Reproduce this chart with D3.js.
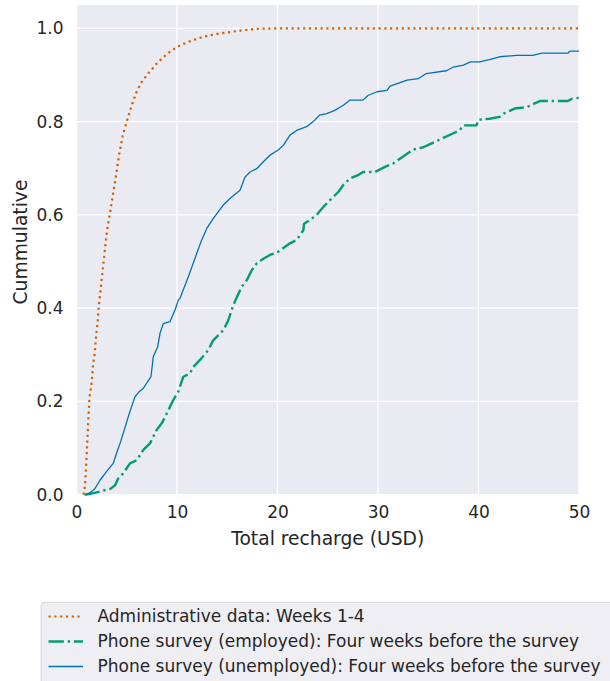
<!DOCTYPE html>
<html>
<head>
<meta charset="utf-8">
<script src="https://cdn.jsdelivr.net/npm/d3@7"></script>
<style>
  html, body { margin: 0; padding: 0; background: #fff; }
  svg { display: block; font-family: "DejaVu Sans", sans-serif; }
</style>
</head>
<body>
<svg id="chart" width="610" height="681"></svg>
<script>
// ---- Data ----
const adminX = [0.7, 0.85, 1.0, 1.15, 1.3, 1.45, 1.55, 1.65, 1.8, 1.95, 2.1, 2.2, 2.35, 2.55, 2.75, 2.95, 3.1, 3.3, 3.6, 3.9, 4.25, 4.6, 5.0, 5.5, 6.0, 6.5, 7.0, 7.5, 8.0, 9.0, 10.0, 11.0, 12.6, 14.0, 15.6, 17.0, 18.0, 20.0, 50.0];
const adminY = [0.0, 0.02, 0.08, 0.15, 0.21, 0.23, 0.25, 0.28, 0.30, 0.34, 0.37, 0.40, 0.43, 0.47, 0.51, 0.55, 0.575, 0.60, 0.64, 0.68, 0.73, 0.77, 0.80, 0.835, 0.865, 0.885, 0.90, 0.912, 0.925, 0.945, 0.96, 0.97, 0.982, 0.988, 0.993, 0.997, 0.999, 1.0, 1.0];

const employedX = [0.8, 1.6, 2.34, 2.84, 3.4, 3.83, 4.16, 4.66, 5.32, 5.99, 6.65, 7.31, 7.98, 8.48, 8.98, 9.63, 10.13, 10.63, 11.29, 11.62, 12.29, 13.11, 13.6, 14.45, 14.78, 15.1, 15.44, 15.77, 16.44, 16.94, 17.43, 17.93, 18.59, 19.25, 20.08, 21.24, 21.9, 22.57, 22.64, 23.23, 23.9, 24.56, 25.2, 26.05, 26.55, 27.2, 28.0, 28.5, 29.7, 30.7, 31.5, 32.5, 33.5, 34.5, 35.5, 36.5, 37.5, 38.1, 38.5, 39.8, 40.0, 41.1, 42.1, 42.5, 43.6, 44.8, 45.6, 46.1, 48.9, 49.3, 50.0];
const employedY = [0.0, 0.003, 0.007, 0.01, 0.013, 0.02, 0.035, 0.046, 0.067, 0.074, 0.096, 0.11, 0.139, 0.153, 0.174, 0.203, 0.221, 0.253, 0.26, 0.274, 0.289, 0.31, 0.331, 0.349, 0.36, 0.374, 0.396, 0.415, 0.446, 0.46, 0.481, 0.496, 0.506, 0.514, 0.521, 0.539, 0.546, 0.567, 0.581, 0.589, 0.60, 0.617, 0.631, 0.649, 0.664, 0.678, 0.685, 0.692, 0.692, 0.703, 0.71, 0.725, 0.74, 0.745, 0.755, 0.765, 0.775, 0.781, 0.792, 0.792, 0.804, 0.806, 0.81, 0.817, 0.828, 0.831, 0.839, 0.844, 0.844, 0.849, 0.851];

const unemployedX = [1.0, 1.34, 1.8, 2.34, 3.0, 3.66, 4.0, 4.33, 4.7, 5.15, 5.5, 5.82, 6.2, 6.65, 7.0, 7.41, 7.64, 8.08, 8.31, 8.64, 9.3, 9.8, 10.13, 10.3, 11.12, 11.96, 12.46, 12.96, 13.6, 14.6, 15.27, 16.27, 16.77, 17.26, 17.93, 18.59, 19.25, 20.08, 20.58, 21.24, 21.9, 22.9, 23.56, 24.2, 24.9, 25.7, 26.55, 27.2, 28.5, 29.0, 29.9, 30.9, 31.2, 32.9, 34.0, 34.8, 36.8, 37.5, 38.5, 39.2, 40.1, 41.1, 42.1, 43.8, 45.4, 46.3, 48.9, 49.1, 50.0];
const unemployedY = [0.0, 0.004, 0.012, 0.031, 0.05, 0.067, 0.09, 0.11, 0.135, 0.167, 0.19, 0.21, 0.22, 0.228, 0.24, 0.253, 0.296, 0.317, 0.346, 0.367, 0.371, 0.396, 0.417, 0.421, 0.467, 0.517, 0.546, 0.571, 0.592, 0.621, 0.635, 0.653, 0.681, 0.692, 0.699, 0.714, 0.728, 0.739, 0.749, 0.771, 0.781, 0.789, 0.80, 0.814, 0.817, 0.824, 0.835, 0.846, 0.846, 0.856, 0.864, 0.867, 0.876, 0.889, 0.892, 0.903, 0.909, 0.917, 0.921, 0.928, 0.928, 0.933, 0.939, 0.942, 0.942, 0.947, 0.947, 0.951, 0.951];

const xTicks = [0, 10, 20, 30, 40, 50];
const yTicks = [0.0, 0.2, 0.4, 0.6, 0.8, 1.0];
const seriesNames = [
  "Administrative data: Weeks 1-4",
  "Phone survey (employed): Four weeks before the survey",
  "Phone survey (unemployed): Four weeks before the survey"
];
const xLabel = "Total recharge (USD)";
const yLabel = "Cummulative";

// ---- Styles ----
const colors = ["#D55E00", "#029E73", "#0173B2"];
const widths = [2.2, 2.4, 1.3];
const dashes = ["2.2,3.6", "15.4,3.8,2.4,3.8", null];
const textColor = "#262626";

const svg = d3.select("#chart");
const plot = { left: 76.5, right: 579, top: 5, bottom: 494.7 };

const x = d3.scaleLinear().domain([0, 50]).range([plot.left, plot.right]);
const y = d3.scaleLinear().domain([0, 1.05]).range([plot.bottom, plot.top]);

// background
svg.append("rect")
  .attr("x", plot.left).attr("y", plot.top)
  .attr("width", plot.right - plot.left).attr("height", plot.bottom - plot.top)
  .attr("fill", "#EAEAF2");

// grid
const grid = svg.append("g");
grid.selectAll("line.v").data(xTicks).join("line")
  .attr("x1", d => x(d)).attr("x2", d => x(d))
  .attr("y1", plot.top).attr("y2", plot.bottom)
  .attr("stroke", "#fff").attr("stroke-width", 1.3);
grid.selectAll("line.h").data(yTicks).join("line")
  .attr("x1", plot.left).attr("x2", plot.right)
  .attr("y1", d => y(d)).attr("y2", d => y(d))
  .attr("stroke", "#fff").attr("stroke-width", 1.3);

// axes (tick labels only)
const xAxis = d3.axisBottom(x).tickValues(xTicks).tickFormat(d3.format("d")).tickSize(0).tickPadding(11);
const yAxis = d3.axisLeft(y).tickValues(yTicks).tickFormat(d3.format(".1f")).tickSize(0).tickPadding(13);
const gx = svg.append("g").attr("transform", `translate(0,${plot.bottom})`).call(xAxis);
const gy = svg.append("g").attr("transform", `translate(${plot.left},0)`).call(yAxis);
[gx, gy].forEach(g => {
  g.select(".domain").remove();
  g.selectAll("text").attr("fill", textColor).style("font-size", "17px").style("font-family", "DejaVu Sans");
});

// axis labels
svg.append("text")
  .attr("x", (plot.left + plot.right) / 2).attr("y", 545)
  .attr("text-anchor", "middle").attr("fill", textColor)
  .style("font-size", "18.7px").text(xLabel);
svg.append("text")
  .attr("transform", `translate(27,242) rotate(-90)`)
  .attr("text-anchor", "middle").attr("fill", textColor)
  .style("font-size", "18.7px").text(yLabel);

// lines
svg.append("clipPath").attr("id", "clip").append("rect")
  .attr("x", plot.left).attr("y", plot.top - 3)
  .attr("width", plot.right - plot.left + 2).attr("height", plot.bottom - plot.top + 6);

const series = [
  { xs: adminX, ys: adminY },
  { xs: employedX, ys: employedY },
  { xs: unemployedX, ys: unemployedY }
];
const line = d3.line().x(d => x(d[0])).y(d => y(d[1]));
const lg = svg.append("g").attr("clip-path", "url(#clip)");
series.forEach((s, i) => {
  const pts = s.xs.map((v, k) => [v, s.ys[k]]);
  const p = lg.append("path").datum(pts)
    .attr("d", line)
    .attr("fill", "none")
    .attr("stroke", colors[i])
    .attr("stroke-width", widths[i])
    .attr("stroke-linejoin", "round");
  if (dashes[i]) p.attr("stroke-dasharray", dashes[i]);
});

// legend
const leg = svg.append("g");
leg.append("rect")
  .attr("x", 41).attr("y", 602.3).attr("width", 620).attr("height", 100)
  .attr("rx", 4)
  .attr("fill", "#EEEEF3").attr("stroke", "#D6D6D6").attr("stroke-width", 1);
seriesNames.forEach((name, i) => {
  const cy = 616.5 + i * 25;
  const l = leg.append("line")
    .attr("x1", 48.5).attr("x2", 83).attr("y1", cy).attr("y2", cy)
    .attr("stroke", colors[i]).attr("stroke-width", widths[i]);
  if (dashes[i]) l.attr("stroke-dasharray", dashes[i]);
  leg.append("text")
    .attr("x", 97.5).attr("y", cy).attr("dy", "0.35em")
    .attr("fill", textColor).style("font-size", "17px")
    .text(name);
});
</script>
</body>
</html>
